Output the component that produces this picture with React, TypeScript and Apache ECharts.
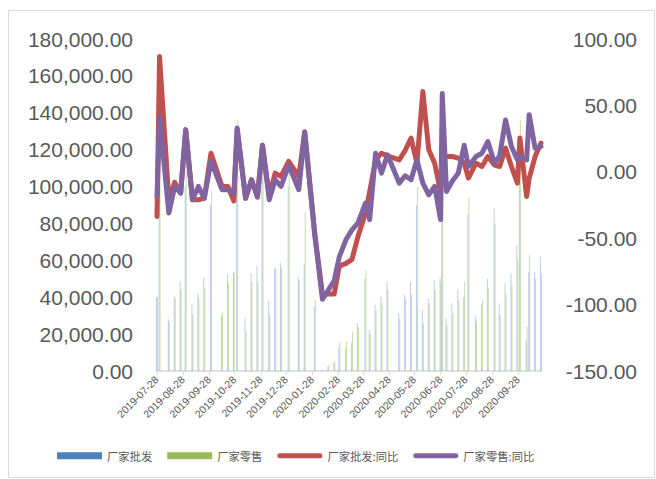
import React, { useEffect, useRef } from 'react';
import * as echarts from 'echarts';

const dates = [
  '2019-07-28', '2019-07-31', '2019-08-11', '2019-08-18', '2019-08-25', '2019-08-31',
  '2019-09-08', '2019-09-15', '2019-09-22', '2019-09-30',
  '2019-10-13', '2019-10-20', '2019-10-27', '2019-10-31',
  '2019-11-10', '2019-11-17', '2019-11-24', '2019-11-30',
  '2019-12-08', '2019-12-15', '2019-12-22', '2019-12-31',
  '2020-01-12', '2020-01-19', '2020-01-31',
  '2020-02-09', '2020-02-16', '2020-02-23', '2020-02-29',
  '2020-03-08', '2020-03-15', '2020-03-22', '2020-03-31',
  '2020-04-05', '2020-04-12', '2020-04-19', '2020-04-26',
  '2020-05-10', '2020-05-17', '2020-05-24', '2020-05-31',
  '2020-06-07', '2020-06-14', '2020-06-21', '2020-06-28', '2020-06-30',
  '2020-07-05', '2020-07-12', '2020-07-19', '2020-07-26', '2020-07-31',
  '2020-08-09', '2020-08-16', '2020-08-23', '2020-08-31',
  '2020-09-06', '2020-09-13', '2020-09-20', '2020-09-27', '2020-09-30',
  '2020-10-08', '2020-10-11', '2020-10-18', '2020-10-25',
];

// 厂家批发
const wholesale = [
  40000, 110000, 28000, 40500, 48400, 100000,
  35800, 42000, 50800, 90000,
  30000, 52600, 53800, 120000,
  28900, 53000, 56900, 110000,
  38000, 55600, 58400, 100000,
  51000, 58000, 35000,
  500, 2500, 4500, 12300,
  12300, 15000, 25900, 50000,
  22200, 35800, 40300, 48400,
  31300, 41200, 48400, 90000,
  33000, 39400, 49300, 51000, 90000,
  28500, 36700, 43900, 40000, 85000,
  29400, 36000, 50200, 88200,
  36700, 47500, 53000, 68300, 120000,
  16800, 53800, 53800, 61900,
];

// 厂家零售
const retail = [
  40300, 130000, 26700, 39500, 44000, 115000,
  30400, 39500, 45000, 97200,
  32100, 47500, 53000, 136000,
  21300, 48400, 48400, 125000,
  30400, 55600, 55600, 112000,
  49000, 86000, 38500,
  300, 3200, 5000, 15900,
  15900, 21300, 24000, 54700,
  20000, 33000, 36700, 44000,
  28200, 39000, 41200, 99900,
  25900, 37000, 43900, 48000, 105000,
  25000, 31300, 38500, 48400, 94500,
  27000, 38500, 44800, 80000,
  30400, 42100, 46600, 60000, 136000,
  24000, 62900, 50000, 53000,
];

// 厂家批发:同比
const wholesaleYoY = [
  -33.6, 86.8, -21, -8, -16, 31.6,
  -21, -21, -20, 14,
  -11, -11, -22, 31.6,
  -20, -6, -19, 20,
  -18, -1, -3.5, 7.8,
  -3.5, 30, -47,
  -92, -92, -92, -71,
  -69, -66, -49, -31,
  -15, 9, 14, 12,
  9, 16, 25.4, 6.5,
  60.5, 16.6, 6.5, -15, 10,
  11.5, 11.5, 10.3, 6.5, -4.7,
  6.5, 4, 11.5, 5,
  4, 17.8, 4, -8.5, 25.4,
  -18.6, -5, 11.5, 21.6,
];

// 厂家零售:同比
const retailYoY = [
  -18.6, 41.6, -31, -11, -16, 31.6,
  -21, -11, -20, 8,
  -13.5, -13.5, -16, 33,
  -20, -6, -19, 20,
  -21, -6, -11, 5,
  -13.5, 30, -48,
  -96, -89, -82, -64,
  -51, -43.7, -38.6, -23.6,
  -36, 14, -1, 12.8,
  -8.5, -3, -6, 9,
  -8.5, -17.3, -11, -36, 59,
  -14.8, -7, -1, 20, 4,
  11.5, 14, 22.8, 6.5,
  12, 39, 19, 9, 11.5,
  9, 43, 17.8, 19,
];

const tickDates = [
  '2019-07-28', '2019-08-28', '2019-09-28', '2019-10-28', '2019-11-28', '2019-12-28',
  '2020-01-28', '2020-02-28', '2020-03-28', '2020-04-28', '2020-05-28', '2020-06-28',
  '2020-07-28', '2020-08-28', '2020-09-28',
];

const seriesNames = ['厂家批发', '厂家零售', '厂家批发:同比', '厂家零售:同比'];

const toTs = (s: string) => {
  const [y, m, d] = s.split('-').map(Number);
  return Date.UTC(y, m - 1, d);
};
const pad = (n: number) => (n < 10 ? '0' + n : '' + n);

const lineIcon =
  'path://M0,0M45,7M2.5,1L42.5,1A2.5,2.5,0,0,1,42.5,6L2.5,6A2.5,2.5,0,0,1,2.5,1Z';

export default function App() {
  const ref = useRef<HTMLDivElement>(null);
  useEffect(() => {
    const chart = echarts.init(ref.current!, null, { renderer: 'svg' });
    const ticks = tickDates.map(toTs);
    const pair = (vals: number[]) => dates.map((d, i) => [toTs(d), vals[i]]);
    const font = 'Liberation Sans';
    chart.setOption({
      animation: false,
      graphic: [
        {
          type: 'rect',
          silent: true,
          shape: { x: 8.5, y: 10.5, width: 646, height: 467 },
          style: { fill: 'none', stroke: '#d9d9d9', lineWidth: 1 },
        },
      ],
      grid: { left: 157, right: 115, top: 39, bottom: 108 },
      legend: {
        left: 52,
        top: 445,
        itemWidth: 45,
        itemHeight: 7,
        itemGap: 15,
        textStyle: { fontSize: 11.3, color: '#595959', fontFamily: 'Noto Sans CJK SC' },
        data: [
          { name: seriesNames[0], icon: 'rect', itemStyle: { color: '#4F81BD', opacity: 1, borderWidth: 0 } },
          { name: seriesNames[1], icon: 'rect', itemStyle: { color: '#9BBB59', opacity: 1, borderWidth: 0 } },
          { name: seriesNames[2], icon: lineIcon, itemStyle: { color: '#C0504D', opacity: 1, borderWidth: 0 } },
          { name: seriesNames[3], icon: lineIcon, itemStyle: { color: '#8064A2', opacity: 1, borderWidth: 0 } },
        ],
      },
      xAxis: {
        type: 'value',
        min: toTs(dates[0]),
        max: toTs(dates[dates.length - 1]),
        axisLine: { show: true, onZero: false, lineStyle: { color: '#d9d9d9', width: 1.5 } },
        axisTick: { show: true, customValues: ticks, length: 4, lineStyle: { color: '#d9d9d9' } },
        splitLine: { show: false },
        axisLabel: {
          customValues: ticks,
          rotate: 45,
          margin: 7,
          fontSize: 10.5,
          color: '#595959',
          fontFamily: font,
          formatter: (v: number) => {
            const d = new Date(v);
            return d.getUTCFullYear() + '-' + pad(d.getUTCMonth() + 1) + '-' + pad(d.getUTCDate());
          },
        },
      },
      yAxis: [
        {
          type: 'value',
          min: 0,
          max: 180000,
          interval: 20000,
          axisLine: { show: false },
          axisTick: { show: false },
          splitLine: { show: false },
          axisLabel: {
            margin: 24,
            fontSize: 21,
            color: '#595959',
            fontFamily: font,
            formatter: (v: number) =>
              v.toLocaleString('en-US', { minimumFractionDigits: 2, maximumFractionDigits: 2 }),
          },
        },
        {
          type: 'value',
          position: 'right',
          min: -150,
          max: 100,
          interval: 50,
          axisLine: { show: false },
          axisTick: { show: false },
          splitLine: { show: false },
          axisLabel: {
            margin: 96,
            align: 'right',
            fontSize: 21,
            color: '#595959',
            fontFamily: font,
            formatter: (v: number) => v.toFixed(2),
          },
        },
      ],
      series: [
        {
          name: seriesNames[0],
          type: 'bar',
          yAxisIndex: 0,
          barWidth: 1,
          barGap: '0%',
          itemStyle: { color: '#4F81BD', opacity: 0.38 },
          data: pair(wholesale),
        },
        {
          name: seriesNames[1],
          type: 'bar',
          yAxisIndex: 0,
          barWidth: 1,
          barGap: '0%',
          itemStyle: { color: '#9BBB59', opacity: 0.5 },
          data: pair(retail),
        },
        {
          name: seriesNames[2],
          type: 'line',
          yAxisIndex: 1,
          symbol: 'none',
          lineStyle: { color: '#C0504D', width: 5, cap: 'round', join: 'round' },
          itemStyle: { color: '#C0504D' },
          data: pair(wholesaleYoY),
        },
        {
          name: seriesNames[3],
          type: 'line',
          yAxisIndex: 1,
          symbol: 'none',
          lineStyle: { color: '#8064A2', width: 5, cap: 'round', join: 'round' },
          itemStyle: { color: '#8064A2' },
          data: pair(retailYoY),
        },
      ],
    });
    return () => chart.dispose();
  }, []);
  return <div ref={ref} style={{ position: 'absolute', left: 0, top: 0, width: 656, height: 479 }} />;
}
